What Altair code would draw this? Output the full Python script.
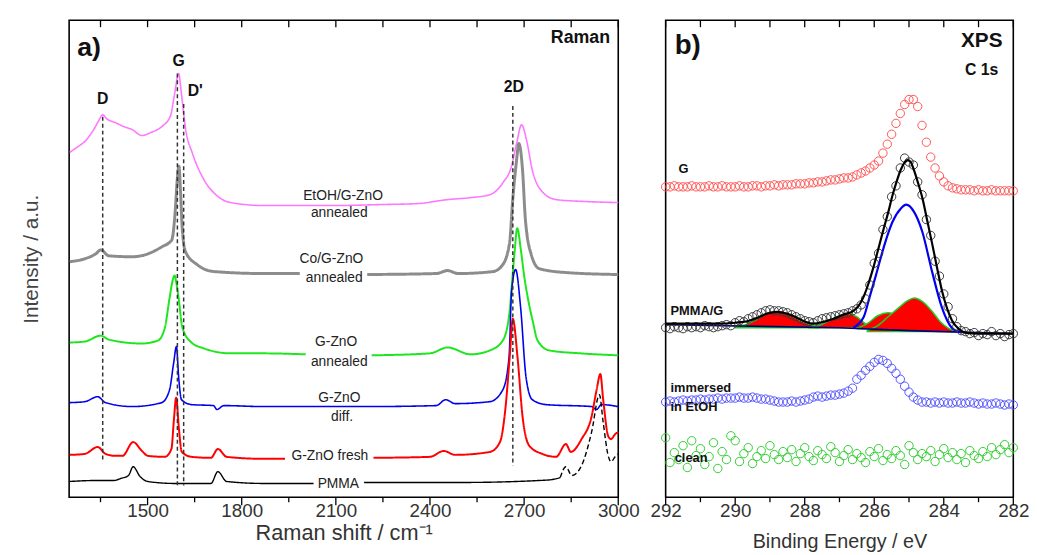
import altair as alt
import pandas as pd

FONT = "Liberation Sans"

# ---------------- Panel a) Raman ----------------
pink_shift = [1252, 1275, 1303, 1330, 1344, 1357, 1370, 1398, 1425, 1451, 1482, 1510, 1545, 1573, 1586, 1599, 1608, 1621, 1643, 1680,
              1721, 1765, 1870, 2000, 2100, 2246, 2362, 2456, 2530, 2591, 2632, 2660, 2676, 2692, 2708, 2726, 2755, 2802, 2900, 3000]
pink_int = [350, 355, 362, 374, 382, 388, 384, 380, 376, 373, 367, 370, 376, 387, 409, 430, 409, 374, 349, 322,
            306, 299, 296, 296, 296, 297, 298, 302, 304, 307, 319, 336, 359, 378, 362, 332, 311, 302, 300, 299]

gray_shift = [1252, 1300, 1335, 1351, 1376, 1451, 1492, 1545, 1577, 1588, 1594, 1600, 1605, 1610, 1621, 1658, 1712, 1869, 1985, None,
              2200, 2420, 2456, 2490, 2601, 2632, 2654, 2663, 2676, 2683, 2695, 2704, 2723, 2748, 2833, 3000]
gray_int = [239, 242, 247, 251, 245, 244, 246, 254, 261, 290, 320, 336, 310, 275, 249, 236, 229, 227, 227, None,
            226, 227, 230, 227, 229, 236, 259, 299, 342, 359, 332, 282, 246, 232, 228, 226]

green_shift = [1252, 1300, 1351, 1376, 1482, 1533, 1555, 1570, 1580, 1586, 1593, 1599, 1611, 1640, 1680, 1765, 1869, 2004, None, 2214,
               2400, 2456, 2529, 2591, 2632, 2654, 2660, 2670, 2678, 2690, 2700, 2712, 2728, 2743, 2780, 2880, 3000]
green_int = [157, 158, 164, 160, 156, 159, 172, 202, 220, 225, 215, 202, 172, 157, 151, 146, 146, 145, None, 144,
             146, 152, 145, 149, 159, 189, 212, 250, 273, 250, 225, 202, 178, 159, 149, 146, 144]

blue_shift = [1252, 1300, 1341, 1366, 1451, 1545, 1570, 1583, 1592, 1599, 1608, 1640, 1710, 1721, 1743, 1869, 2200, 2420, 2450, 2480,
              2591, 2632, 2652, 2660, 2673, 2689, 2706, 2726, 2770, 2915, 2931, 2946, 3000]
blue_int = [96, 97, 102, 96, 92, 96, 109, 136, 153, 122, 99, 94, 93, 89, 93, 92, 92, 93, 99, 95,
            97, 109, 142, 209, 231, 192, 122, 99, 94, 92, 89, 94, 92]

red_shift = [1252, 1300, 1341, 1366, 1398, 1420, 1454, 1482, 1501, 1555, 1576, 1584, 1591, 1600, 1609, 1640, 1702, 1724, 1752, 1869,
             1938, None, 2220, 2400, 2444, 2480, 2591, 2623, 2641, 2654, 2664, 2679, 2695, 2717, 2758, 2802, 2833, 2849, 2883, 2915,
             2931, 2943, 2952, 2968, 2977, 2990, 3000]
red_int = [43, 44, 51, 44, 42, 42, 56, 47, 42, 41, 49, 79, 101, 69, 46, 41, 40, 49, 41, 39,
           39, None, 40, 41, 47, 43, 46, 56, 92, 142, 181, 142, 82, 52, 44, 41, 54, 46, 59, 82,
           109, 125, 99, 62, 59, 64, 66]

pmma_shift = [1252, 1335, 1392, 1414, 1439, 1454, 1476, 1501, 1586, 1702, 1724, 1752, 1869, 2029, None, 2190, 2500, 2748, 2790, 2815]
pmma_int = [16, 17, 17, 19, 22, 31, 21, 16, 14, 14, 26, 16, 14, 14, None, 15, 15, 17, 18, 20]
pmma_dash_shift = [2815, 2833, 2852, 2883, 2915, 2940, 2952, 2968, 2977, 2990, 3000]
pmma_dash_int = [20, 31, 22, 32, 66, 104, 76, 42, 36, 41, 44]

mark_shift = [1357, 1595, 1615, 2664]
mark_top = [386, 430, 399, 397]
mark_bottom = [37, 11, 12, 32]

peak_names = ["D", "G", "D'", "2D"]
peak_x = [1357, 1599, 1652, 2667]
peak_y = [404, 443, 412, 416]

curve_text = ["EtOH/G-ZnO", "annealed", "Co/G-ZnO", "annealed", "G-ZnO", "annealed", "G-ZnO", "diff.", "G-ZnO fresh", "PMMA"]
curve_x = [2123, 2111, 2086, 2095, 2101, 2111, 2111, 2120, 2081, 2108]
curve_y = [306, 288, 242, 222, 157, 137, 101, 81, 42, 13]

raman_major = [1500, 1800, 2100, 2400, 2700, 3000]
raman_minor = [1350, 1650, 1950, 2250, 2550, 2850]

# ---------------- Panel b) XPS ----------------
be_grid = [round(292 - 0.125 * i, 3) for i in range(81)]
xps_g = [313, 313, 314, 313, 313, 313, 314, 313, 313, 313, 314, 313, 313, 314, 313, 313,
         313, 314, 313, 313, 314, 314, 313, 314, 314, 315, 314, 315, 315, 315, 316, 316,
         316, 317, 317, 318, 318, 319, 320, 320, 321, 322, 322, 323, 325, 327, 329, 332,
         335, 339, 347, 356, 366, 377, 387, 396, 401, 401, 394, 375, 358, 343, 332, 324,
         318, 314, 312, 311, 310, 310, 310, 309, 310, 309, 309, 310, 309, 309, 309, 309, 309]
xps_pmma = [171, 170, 172, 171, 170, 172, 171, 172, 171, 173, 172, 171, 172, 173, 174, 173,
            176, 178, 177, 180, 182, 184, 186, 188, 189, 188, 188, 187, 186, 184, 182, 180,
            178, 177, 176, 178, 180, 181, 182, 183, 184, 185, 186, 188, 190, 194, 200, 214,
            236, 246, 270, 283, 303, 314, 332, 342, 338, 335, 318, 305, 280, 264, 238, 223,
            205, 192, 180, 172, 168, 167, 165, 166, 163, 165, 164, 167, 163, 165, 162, 164, 165]
xps_etoh = [96, 97, 96, 97, 98, 97, 98, 98, 99, 98, 99, 99, 100, 99, 100, 100,
            100, 101, 100, 100, 101, 100, 99, 99, 98, 97, 96, 96, 96, 97, 96, 97,
            98, 99, 101, 102, 101, 102, 103, 103, 104, 105, 107, 110, 119, 123, 128, 132,
            136, 139, 138, 135, 130, 125, 119, 112, 106, 101, 98, 96, 96, 95, 96, 95,
            96, 95, 95, 96, 95, 95, 96, 95, 94, 95, 94, 94, 95, 94, 93, 94, 93]
xps_clean = [60, 35, 45, 38, 52, 30, 57, 42, 49, 33, 41, 55, 29, 46, 38, 62,
             57, 36, 44, 50, 34, 41, 47, 39, 52, 43, 38, 46, 40, 48, 36, 44,
             50, 41, 37, 47, 43, 39, 51, 45, 36, 42, 48, 38, 44, 40, 35, 46,
             41, 49, 37, 43, 39, 47, 42, 33, 52, 45, 38, 44, 41, 47, 36, 43,
             49, 40, 45, 38, 44, 35, 47, 42, 39, 46, 41, 50, 43, 48, 53, 45, 50]

fit_be = [292, 291.9, 290.5, 290.0, 289.6, 289.36, 289.1, 288.79, 288.5, 288.22, 287.98, 287.74, 287.45, 287.17, 286.9, 286.6,
          286.45, 286.32, 286.18, 286.03, 285.9, 285.75, 285.6, 285.47, 285.35, 285.24, 285.14, 285.04, 284.95, 284.87, 284.75,
          284.61, 284.47, 284.33, 284.19, 284.05, 283.9, 283.76, 283.58, 283.39, 283.0, 282.5, 282.0]
fit_cps = [175, 175, 175, 176, 178, 181, 185, 187, 185, 181, 177, 175, 177, 180, 184, 188,
           193, 201, 214, 231, 248, 268, 287, 305, 319, 330, 337, 340, 338, 331, 318,
           301, 278, 255, 231, 208, 190, 178, 170, 166, 165, 165, 165]

sp2_be = [286.6, 286.3, 286.14, 285.95, 285.76, 285.6, 285.47, 285.24, 285.08, 284.86, 284.62, 284.34, 284.05, 283.77, 283.49]
sp2_cps = [171, 182, 201, 224, 248, 266, 278, 291, 295, 288, 268, 228, 191, 171, 166]

c1_be = [290.0, 289.7, 289.4, 289.1, 288.8, 288.5, 288.2, 287.9, 287.6]
c1_cps = [172, 174, 179, 185, 187, 185, 180, 175, 172]
c2_be = [287.9, 287.6, 287.3, 287.0, 286.75, 286.5, 286.3, 286.1]
c2_cps = [171, 173, 178, 183, 185, 182, 176, 171]
c3_be = [286.5, 286.2, 285.9, 285.6, 285.3, 285.0]
c3_cps = [170, 175, 183, 186, 182, 172]
c4_be = [286.2, 285.9, 285.6, 285.3, 285.05, 284.85, 284.6, 284.35, 284.1, 283.85, 283.6]
c4_cps = [168, 173, 182, 191, 198, 201, 197, 188, 177, 170, 167]
comp_base = [171, 171, 170, 167]

bg_be = [292, 287, 285, 283, 282]
bg_cps = [174, 171, 168, 166, 165]

xps_major = [292, 290, 288, 286, 284, 282]
xps_minor = [291, 289, 287, 285, 283]

# ---------------- helpers ----------------
def seg_frame(xs, ys):
    rows, seg = [], 0
    for x, y in zip(xs, ys):
        if x is None:
            seg += 1
            continue
        rows.append({"shift": x, "int": y, "seg": seg})
    return pd.DataFrame(rows)

W_A, H = 556, 483
W_B = 352

XA = alt.X("shift:Q", scale=alt.Scale(domain=[1250, 3000], nice=False, zero=False),
           axis=alt.Axis(values=raman_major, format="d", ticks=False, domain=False, grid=False, labelFlush=False,
                         labelFont=FONT, labelFontSize=19, labelColor="#333", labelPadding=5,
                         title="Raman shift / cm\u207b\u00b9", titleFont=FONT, titleFontSize=22,
                         titleFontWeight="normal", titleColor="#333", titlePadding=2))
YA = alt.Y("int:Q", scale=alt.Scale(domain=[0, 484], nice=False, zero=False),
           axis=alt.Axis(labels=False, ticks=False, domain=False, grid=False, title="Intensity / a.u.",
                         titleFont=FONT, titleFontSize=21, titleFontWeight="normal", titleColor="#444",
                         titlePadding=28))

styles = [
    (pink_shift, pink_int, "#ff77ff", 1.6, [1, 0]),
    (gray_shift, gray_int, "#8c8c8c", 3.0, [1, 0]),
    (green_shift, green_int, "#1ee61e", 2.0, [1, 0]),
    (blue_shift, blue_int, "#0000ee", 1.6, [1, 0]),
    (red_shift, red_int, "#ff0000", 2.0, [1, 0]),
    (pmma_shift, pmma_int, "#000000", 1.4, [1, 0]),
    (pmma_dash_shift, pmma_dash_int, "#000000", 1.4, [5, 3]),
]
layers_a = []
for xs, ys, col, w, dash in styles:
    layers_a.append(
        alt.Chart(seg_frame(xs, ys)).mark_line(color=col, strokeWidth=w, strokeDash=dash, interpolate="monotone")
        .encode(x=XA, y=YA, detail="seg:N")
    )

marks_df = pd.DataFrame({"shift": mark_shift, "int": mark_top, "int2": mark_bottom})
layers_a.append(
    alt.Chart(marks_df).mark_rule(color="#333", strokeWidth=1.5, strokeDash=[4, 3])
    .encode(x=XA, y=YA, y2="int2:Q")
)

peaks_df = pd.DataFrame({"shift": peak_x, "int": peak_y, "t": peak_names})
layers_a.append(
    alt.Chart(peaks_df).mark_text(font=FONT, fontSize=16, fontWeight="bold", color="#111", baseline="middle")
    .encode(x=XA, y=YA, text="t:N")
)

curves_df = pd.DataFrame({"shift": curve_x, "int": curve_y, "t": curve_text})
layers_a.append(
    alt.Chart(curves_df).mark_text(font=FONT, fontSize=14, color="#222", baseline="middle")
    .encode(x=XA, y=YA, text="t:N")
)

misc_a = pd.DataFrame({"shift": [1276], "int": [456], "t": ["a)"]})
layers_a.append(
    alt.Chart(misc_a).mark_text(font=FONT, fontSize=27, fontWeight="bold", color="#111", baseline="middle", align="left")
    .encode(x=XA, y=YA, text="t:N")
)
misc_a2 = pd.DataFrame({"shift": [2974], "int": [466], "t": ["Raman"]})
layers_a.append(
    alt.Chart(misc_a2).mark_text(font=FONT, fontSize=18, fontWeight="bold", color="#111", baseline="middle", align="right")
    .encode(x=XA, y=YA, text="t:N")
)

ticks_all_a = pd.DataFrame({"shift": sorted(raman_major + raman_minor)})
layers_a.append(alt.Chart(ticks_all_a).mark_rule(color="#000", strokeWidth=1.3)
                .encode(x=XA, y=alt.value(0), y2=alt.value(7)))
layers_a.append(alt.Chart(pd.DataFrame({"shift": raman_major})).mark_rule(color="#000", strokeWidth=1.3)
                .encode(x=XA, y=alt.value(H), y2=alt.value(H + 8)))
layers_a.append(alt.Chart(pd.DataFrame({"shift": raman_minor})).mark_rule(color="#000", strokeWidth=1.3)
                .encode(x=XA, y=alt.value(H), y2=alt.value(H + 5)))

left = alt.layer(*layers_a).properties(width=W_A, height=H)

# ---------------- right panel ----------------
XB = alt.X("be:Q", scale=alt.Scale(domain=[292, 282], nice=False, zero=False),
           axis=alt.Axis(values=xps_major, format="d", ticks=False, domain=False, grid=False, labelFlush=False,
                         labelFont=FONT, labelFontSize=19, labelColor="#333", labelPadding=5,
                         title="Binding Energy / eV", titleFont=FONT, titleFontSize=20,
                         titleFontWeight="normal", titleColor="#333", titlePadding=11))
YB = alt.Y("cps:Q", scale=alt.Scale(domain=[0, 481], nice=False, zero=False), axis=None)

layers_b = []
for cb, cc, base in [(c1_be, c1_cps, comp_base[0]), (c2_be, c2_cps, comp_base[1]),
                     (c3_be, c3_cps, comp_base[2]), (c4_be, c4_cps, comp_base[3])]:
    dfc = pd.DataFrame({"be": cb, "cps": cc, "base": [base] * len(cb)})
    layers_b.append(
        alt.Chart(dfc).mark_area(color="#ff0000", stroke="#22cc22", strokeWidth=1.5, interpolate="monotone", opacity=1)
        .encode(x=XB, y=YB, y2="base:Q")
    )
layers_b.append(alt.Chart(pd.DataFrame({"be": bg_be, "cps": bg_cps})).mark_line(color="#00007a", strokeWidth=1.6)
                .encode(x=XB, y=YB))
layers_b.append(alt.Chart(pd.DataFrame({"be": sp2_be, "cps": sp2_cps})).mark_line(color="#0000ee", strokeWidth=2.2, interpolate="monotone")
                .encode(x=XB, y=YB))

for vals, col in [(xps_g, "#ff5555"), (xps_pmma, "#3a3a3a"), (xps_etoh, "#5555ff"), (xps_clean, "#33cc33")]:
    layers_b.append(
        alt.Chart(pd.DataFrame({"be": be_grid, "cps": vals}))
        .mark_point(shape="circle", filled=False, size=72, strokeWidth=1, color=col, opacity=1)
        .encode(x=XB, y=YB)
    )
layers_b.append(alt.Chart(pd.DataFrame({"be": fit_be, "cps": fit_cps})).mark_line(color="#000", strokeWidth=2.2, interpolate="monotone")
                .encode(x=XB, y=YB))

xps_text = pd.DataFrame({
    "be": [291.63, 291.86, 291.86, 291.86, 291.74],
    "cps": [331, 188, 110, 91, 40],
    "t": ["G", "PMMA/G", "immersed", "in EtOH", "clean"],
})
layers_b.append(alt.Chart(xps_text).mark_text(font=FONT, fontSize=13, fontWeight="bold", color="#111", align="left", baseline="middle")
                .encode(x=XB, y=YB, text="t:N"))
layers_b.append(alt.Chart(pd.DataFrame({"be": [291.74], "cps": [455], "t": ["b)"]}))
                .mark_text(font=FONT, fontSize=28, fontWeight="bold", color="#111", align="left", baseline="middle")
                .encode(x=XB, y=YB, text="t:N"))
layers_b.append(alt.Chart(pd.DataFrame({"be": [282.31, 282.43], "cps": [460, 431], "t": ["XPS", "C 1s"], "fs": [21, 16]}))
                .mark_text(font=FONT, fontWeight="bold", color="#111", align="right", baseline="middle")
                .encode(x=XB, y=YB, text="t:N", size=alt.Size("fs:Q", scale=None, legend=None)))

layers_b.append(alt.Chart(pd.DataFrame({"be": sorted(xps_major + xps_minor)})).mark_rule(color="#000", strokeWidth=1.3)
                .encode(x=XB, y=alt.value(0), y2=alt.value(7)))
layers_b.append(alt.Chart(pd.DataFrame({"be": xps_major})).mark_rule(color="#000", strokeWidth=1.3)
                .encode(x=XB, y=alt.value(H), y2=alt.value(H + 8)))
layers_b.append(alt.Chart(pd.DataFrame({"be": xps_minor})).mark_rule(color="#000", strokeWidth=1.3)
                .encode(x=XB, y=alt.value(H), y2=alt.value(H + 5)))

right = alt.layer(*layers_b).properties(width=W_B, height=H)

chart = (
    alt.hconcat(left, right, spacing=48, bounds="flush")
    .properties(padding={"left": 20, "top": 15, "right": 7, "bottom": 0}, background="white")
    .configure_view(stroke="#000", strokeWidth=1.6)
)

chart.save("out.html", embed_options={"renderer": "svg", "actions": False})
